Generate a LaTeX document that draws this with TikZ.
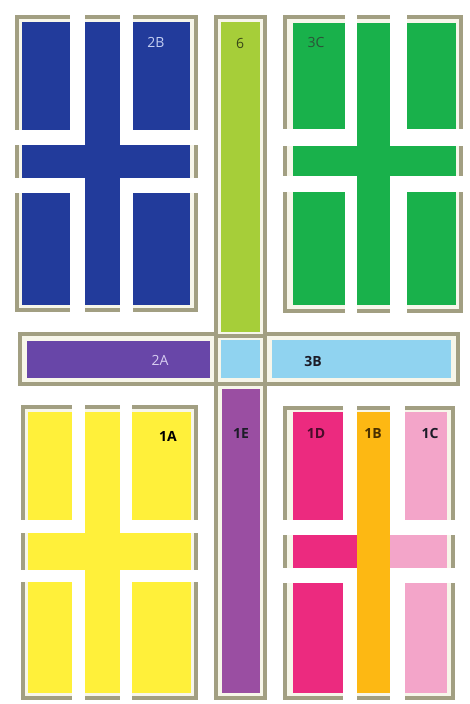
\documentclass[tikz,border=0pt]{standalone}
\usepackage{fontspec}
\setmainfont{Open Sans}
\definecolor{frameC}{HTML}{A29F82}
\definecolor{bandC}{HTML}{F7F6EA}
\definecolor{blueC}{HTML}{223B9B}
\definecolor{greenC}{HTML}{19B14B}
\definecolor{limeC}{HTML}{A6CE39}
\definecolor{purpleA}{HTML}{6846A8}
\definecolor{purpleE}{HTML}{9A4EA2}
\definecolor{skyC}{HTML}{90D3F0}
\definecolor{yellowC}{HTML}{FFF03A}
\definecolor{pinkC}{HTML}{EC2A7F}
\definecolor{orangeC}{HTML}{FDB813}
\definecolor{lpinkC}{HTML}{F3A5C9}
\definecolor{txtB}{HTML}{C4CEF2}
\definecolor{txtA}{HTML}{D8CEF2}
\definecolor{txtC}{HTML}{2C5238}
\definecolor{txtSix}{HTML}{3A4818}
\definecolor{txtDark}{HTML}{1C1C28}
\definecolor{txtD}{HTML}{4A0C2A}
\definecolor{txtOB}{HTML}{4A3000}
\tikzset{
  frm/.style={draw=frameC,line width=4pt,fill=bandC},
  frl/.style={draw=frameC,line width=4pt},
  gap/.style={fill=white},
  lbl/.style={font=\fontsize{14}{14}\selectfont,inner sep=0pt,anchor=center}
}
\begin{document}
\begin{tikzpicture}[x=1pt,y=-1pt]
\useasboundingbox (0,0) rectangle (470,704);
\fill[white] (0,0) rectangle (470,704);

% ---------- frames ----------
\draw[frm] (16.5,16.5) rectangle (195.5,309.5);   % 2B
\draw[frm] (285,16.5) rectangle (460.5,311);       % 3C
\draw[frm] (20,333.5) rectangle (457.5,383.5);     % middle row
\draw[frm] (22.5,407) rectangle (196,698);         % 1A
\draw[frm] (284.5,407.5) rectangle (452.5,697.5);  % 1D/1B/1C
\draw[frm] (215.5,16.5) rectangle (264.5,697.5);   % centre column
\draw[frl] (215.5,336) -- (264.5,336);
\draw[frl] (215.5,383.5) -- (264.5,383.5);

% ---------- 2B (blue) ----------
\fill[blueC] (22,22) rectangle (70,130);
\fill[blueC] (85,22) rectangle (120,305);
\fill[blueC] (133,22) rectangle (190,130);
\fill[blueC] (22,145) rectangle (190,178);
\fill[blueC] (22,193) rectangle (70,305);
\fill[blueC] (133,193) rectangle (190,305);
\fill[gap] (70,10) rectangle (85,145);
\fill[gap] (70,178) rectangle (85,316);
\fill[gap] (120,10) rectangle (133,145);
\fill[gap] (120,178) rectangle (133,316);
\fill[gap] (10,130) rectangle (85,145);
\fill[gap] (120,130) rectangle (201,145);
\fill[gap] (10,178) rectangle (85,193);
\fill[gap] (120,178) rectangle (201,193);
\node[lbl,text=txtB] (l2B) at (156,42) {2B};

% ---------- 3C (green) ----------
\fill[greenC] (293,23) rectangle (345,129);
\fill[greenC] (357,23) rectangle (390,305);
\fill[greenC] (407,23) rectangle (456,129);
\fill[greenC] (293,146) rectangle (456,176);
\fill[greenC] (293,192) rectangle (345,305);
\fill[greenC] (407,192) rectangle (456,305);
\fill[gap] (345,10) rectangle (357,146);
\fill[gap] (345,176) rectangle (357,317);
\fill[gap] (390,10) rectangle (407,146);
\fill[gap] (390,176) rectangle (407,317);
\fill[gap] (279,129) rectangle (357,146);
\fill[gap] (390,129) rectangle (467,146);
\fill[gap] (279,176) rectangle (357,192);
\fill[gap] (390,176) rectangle (467,192);
\node[lbl,text=txtC] (l3C) at (316,42) {3C};

% ---------- centre column ----------
\fill[limeC] (221,22) rectangle (260,332);
\node[lbl,text=txtSix] (l6) at (240,43) {6};
\fill[skyC] (221,340) rectangle (260,378);
\fill[purpleE] (222,389) rectangle (260,693);
\node[lbl,text=txtDark] (l1E) at (241,433) {\bfseries 1E};

% ---------- middle row ----------
\fill[purpleA] (27,341) rectangle (210,378);
\node[lbl,text=txtA] (l2A) at (160,360) {2A};
\fill[skyC] (272,340) rectangle (451,378);
\node[lbl,text=txtDark] (l3B) at (313,361) {\bfseries 3B};

% ---------- 1A (yellow) ----------
\fill[yellowC] (28,412) rectangle (72,520);
\fill[yellowC] (85,412) rectangle (120,693);
\fill[yellowC] (132,412) rectangle (191,520);
\fill[yellowC] (28,533) rectangle (191,570);
\fill[yellowC] (28,582) rectangle (72,693);
\fill[yellowC] (132,582) rectangle (191,693);
\fill[gap] (72,400) rectangle (85,533);
\fill[gap] (72,570) rectangle (85,706);
\fill[gap] (120,400) rectangle (132,533);
\fill[gap] (120,570) rectangle (132,706);
\fill[gap] (15,520) rectangle (85,533);
\fill[gap] (120,520) rectangle (202,533);
\fill[gap] (15,570) rectangle (85,582);
\fill[gap] (120,570) rectangle (202,582);
\node[lbl,text=black] (l1A) at (168,436) {\bfseries 1A};

% ---------- 1D / 1B / 1C ----------
\fill[pinkC] (293,412) rectangle (343,520);
\fill[pinkC] (293,583) rectangle (343,693);
\fill[pinkC] (293,535) rectangle (357,568);
\fill[orangeC] (357,412) rectangle (390,693);
\fill[lpinkC] (390,535) rectangle (447,568);
\fill[lpinkC] (405,412) rectangle (447,520);
\fill[lpinkC] (405,583) rectangle (447,693);
\fill[gap] (343,400) rectangle (357,535);
\fill[gap] (343,568) rectangle (357,706);
\fill[gap] (390,400) rectangle (405,535);
\fill[gap] (390,568) rectangle (405,706);
\fill[gap] (278,520) rectangle (357,535);
\fill[gap] (390,520) rectangle (460,535);
\fill[gap] (278,568) rectangle (357,583);
\fill[gap] (390,568) rectangle (460,583);
\node[lbl,text=txtD] (l1D) at (316,433) {\bfseries 1D};
\node[lbl,text=txtOB] (l1B) at (373,433) {\bfseries 1B};
\node[lbl,text=txtDark] (l1C) at (430,433) {\bfseries 1C};
\end{tikzpicture}
\end{document}
